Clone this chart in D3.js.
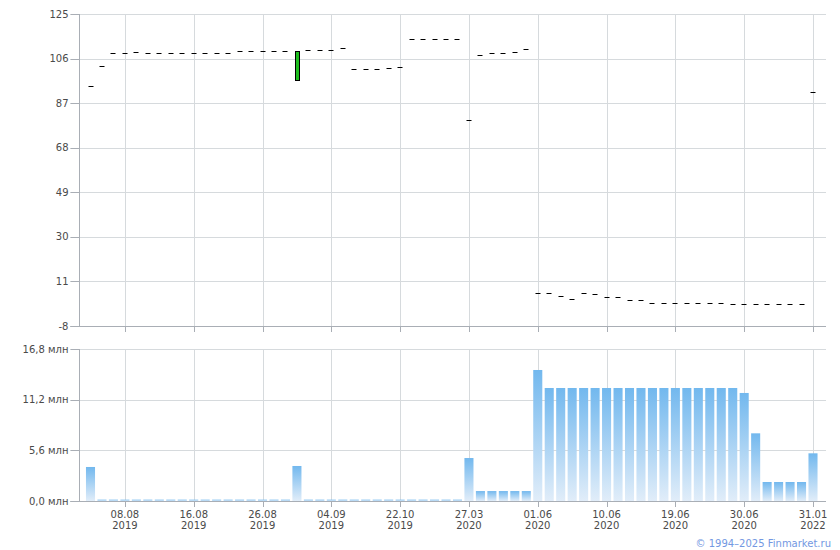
<!DOCTYPE html>
<html><head><meta charset="utf-8">
<script src="https://cdn.jsdelivr.net/npm/d3@7"></script>
<style>
html,body{margin:0;padding:0;background:#fff;}
svg{display:block;font-family:"DejaVu Sans",Verdana,sans-serif;}
</style></head>
<body>
<svg id="c" width="840" height="550"></svg>
<script>
// ---- data ----
const dates = [
 "05.08.2019","06.08.2019","07.08.2019","08.08.2019","09.08.2019","12.08.2019","13.08.2019","14.08.2019","15.08.2019","16.08.2019",
 "19.08.2019","20.08.2019","21.08.2019","22.08.2019","23.08.2019","26.08.2019","27.08.2019","28.08.2019","29.08.2019","30.08.2019",
 "02.09.2019","04.09.2019","10.09.2019","24.09.2019","01.10.2019","08.10.2019","15.10.2019","22.10.2019","05.11.2019","03.12.2019",
 "14.01.2020","11.02.2020","10.03.2020","27.03.2020","10.04.2020","24.04.2020","08.05.2020","20.05.2020","29.05.2020","01.06.2020",
 "02.06.2020","03.06.2020","04.06.2020","05.06.2020","08.06.2020","10.06.2020","11.06.2020","15.06.2020","16.06.2020","17.06.2020",
 "18.06.2020","19.06.2020","22.06.2020","23.06.2020","25.06.2020","26.06.2020","29.06.2020","30.06.2020","01.07.2020","15.09.2020",
 "15.12.2020","15.06.2021","15.10.2021","31.01.2022"
];
const priceClose = [
 94.2,102.7,108.4,108.4,108.7,108.4,108.4,108.4,108.4,108.4,
 108.4,108.4,108.4,109.1,109.1,109.1,109.1,109.1,109.1,109.5,
 109.5,109.5,110.4,101.4,101.4,101.4,101.8,102.3,114.2,114.2,
 114.2,114.2,114.2,79.7,107.4,108.4,108.4,108.7,110.0,5.9,
 5.9,4.8,3.4,5.9,5.5,4.4,4.4,2.95,2.95,1.7,
 1.7,1.7,1.7,1.7,1.7,1.7,1.25,1.25,1.25,1.25,
 1.25,1.25,1.25,91.6
];
const priceOpen = [
 94.2,102.7,108.4,108.4,108.7,108.4,108.4,108.4,108.4,108.4,
 108.4,108.4,108.4,109.1,109.1,109.1,109.1,109.1,96.7,109.5,
 109.5,109.5,110.4,101.4,101.4,101.4,101.8,102.3,114.2,114.2,
 114.2,114.2,114.2,79.7,107.4,108.4,108.4,108.7,110.0,5.9,
 5.9,4.8,3.4,5.9,5.5,4.4,4.4,2.95,2.95,1.7,
 1.7,1.7,1.7,1.7,1.7,1.7,1.25,1.25,1.25,1.25,
 1.25,1.25,1.25,91.6
];
const volume = [
 3.76,0.15,0.15,0.15,0.15,0.15,0.15,0.15,0.15,0.15,
 0.15,0.15,0.15,0.15,0.15,0.15,0.15,0.15,3.87,0.15,
 0.15,0.15,0.15,0.15,0.15,0.15,0.15,0.15,0.15,0.15,
 0.15,0.15,0.15,4.75,1.1,1.1,1.1,1.1,1.1,14.48,
 12.49,12.49,12.49,12.49,12.49,12.49,12.49,12.49,12.49,12.49,
 12.49,12.49,12.49,12.49,12.49,12.49,12.49,11.94,7.48,2.1,
 2.1,2.1,2.1,5.27
];
const priceTicks = [-8,11,30,49,68,87,106,125];
const volumeTicks = [0,5.6,11.2,16.8];
const xTickIdx = [3,9,15,21,27,33,39,45,51,57,63];
const copyright = "© 1994–2025 Finmarket.ru";

// ---- layout ----
const svg = d3.select("#c");
const L = 79.5, R = 826;
const top1 = 14, bot1 = 326, top2 = 349, bot2 = 501;
const gridCol = "#d6dadd", axisCol = "#a9aeb5", txtCol = "#4a4a4a";

const idx = d3.range(dates.length);
const x = d3.scalePoint().domain(idx).range([90.5, 813]);
const step = x.step();
const yP = d3.scaleLinear().domain([-8,125]).range([bot1, top1]);
const yV = d3.scaleLinear().domain([0,16.8]).range([bot2, top2]);

const defs = svg.append("defs");
const g = defs.append("linearGradient").attr("id","vg").attr("x1",0).attr("y1",0).attr("x2",0).attr("y2",1);
g.append("stop").attr("offset","0%").attr("stop-color","#72b8ee");
g.append("stop").attr("offset","100%").attr("stop-color","#e1edf9");

const crisp = v => Math.round(v) + 0.5;

function panel(y, ticks, y0, y1, fmt){
  const gg = svg.append("g");
  gg.selectAll("line.h").data(ticks).join("line")
    .attr("x1", L-9).attr("x2", R)
    .attr("y1", d => crisp(y(d))).attr("y2", d => crisp(y(d)))
    .attr("stroke", d => d === ticks[0] ? axisCol : gridCol)
    .attr("stroke-width", 1);
  gg.selectAll("line.t").data(ticks).join("line")
    .attr("x1", L-9).attr("x2", L)
    .attr("y1", d => crisp(y(d))).attr("y2", d => crisp(y(d)))
    .attr("stroke", axisCol);
  gg.selectAll("line.v").data(xTickIdx).join("line")
    .attr("x1", d => crisp(x(d))).attr("x2", d => crisp(x(d)))
    .attr("y1", y1).attr("y2", y0)
    .attr("stroke", gridCol);
  gg.selectAll("line.xt").data(xTickIdx).join("line")
    .attr("x1", d => crisp(x(d))).attr("x2", d => crisp(x(d)))
    .attr("y1", y0).attr("y2", y0 + 6)
    .attr("stroke", axisCol);
  gg.append("line").attr("x1", L).attr("x2", L).attr("y1", y1).attr("y2", crisp(y0)).attr("stroke", axisCol);
  gg.append("line").attr("x1", L-9).attr("x2", R).attr("y1", crisp(y0)).attr("y2", crisp(y0)).attr("stroke", axisCol);
  gg.selectAll("text.yl").data(ticks).join("text")
    .attr("x", L-11).attr("y", d => y(d)).attr("dy","0.35em")
    .attr("text-anchor","end").attr("font-size",10).attr("fill",txtCol)
    .text(fmt);
}

panel(yP, priceTicks, bot1, top1, d => String(d));
panel(yV, volumeTicks, bot2, top2, d => d.toFixed(1).replace(".", ",") + " млн");

// volume bars
const bw = step * 0.79;
svg.append("g").selectAll("rect").data(idx).join("rect")
  .attr("x", i => x(i) - bw/2)
  .attr("width", bw)
  .attr("y", i => yV(volume[i]))
  .attr("height", i => yV(0) - yV(volume[i]))
  .attr("fill", "url(#vg)");

// candles
const cw = 5;
const cg = svg.append("g");
idx.forEach(i => {
  const o = priceOpen[i], c = priceClose[i];
  const cx = Math.round(x(i));
  if (Math.abs(o - c) < 0.01) {
    cg.append("line").attr("x1", cx - 2.5).attr("x2", cx + 2.5)
      .attr("y1", crisp(yP(c))).attr("y2", crisp(yP(c)))
      .attr("stroke", "#000").attr("stroke-width", 1);
  } else {
    cg.append("rect").attr("x", cx - 2 + 0.5).attr("width", cw - 1)
      .attr("y", crisp(yP(Math.max(o, c))))
      .attr("height", Math.round(Math.abs(yP(o) - yP(c))))
      .attr("fill", c > o ? "#1ebe1e" : "#e02020")
      .attr("stroke", "#000").attr("stroke-width", 1);
  }
});

// x labels
const xl = svg.append("g").selectAll("text").data(xTickIdx).join("text")
  .attr("x", i => x(i)).attr("y", 517.5)
  .attr("text-anchor","middle").attr("font-size",10).attr("fill",txtCol);
xl.append("tspan").attr("x", i => x(i)).text(i => dates[i].slice(0,5));
xl.append("tspan").attr("x", i => x(i)).attr("dy", 11.5).text(i => dates[i].slice(6));

svg.append("text").attr("x", 831).attr("y", 546.5).attr("text-anchor","end")
  .attr("font-size",10).attr("fill","#7398e2").text(copyright);
</script>
</body></html>
